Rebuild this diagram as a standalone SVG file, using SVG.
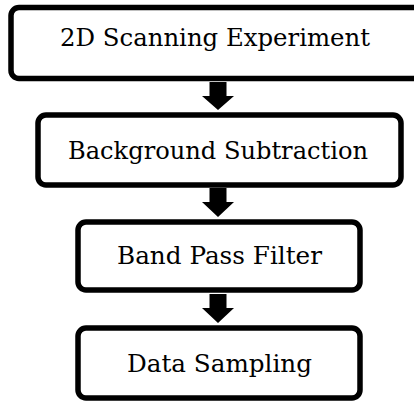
<svg xmlns="http://www.w3.org/2000/svg" width="414" height="401" viewBox="0 0 414 401">
<style>
.box{fill:#fff;stroke:#000;stroke-width:5.5}
.lbl{font-family:"DejaVu Serif","Liberation Serif",serif;font-size:24px;fill:#000;text-anchor:middle}
.arr{fill:#000}
</style>
<rect width="414" height="401" fill="#fff"/>
<g id="n1"><rect class="box" x="11" y="7.5" width="420" height="71" rx="8"/><text class="lbl" x="215" y="46" textLength="310" lengthAdjust="spacingAndGlyphs">2D Scanning Experiment</text></g>
<g id="n2"><rect class="box" x="38" y="115" width="363" height="70" rx="8"/><text class="lbl" x="218" y="159" textLength="300" lengthAdjust="spacingAndGlyphs">Background Subtraction</text></g>
<g id="n3"><rect class="box" x="78" y="222" width="282" height="68" rx="8"/><text class="lbl" x="219.5" y="264" textLength="205" lengthAdjust="spacingAndGlyphs">Band Pass Filter</text></g>
<g id="n4"><rect class="box" x="78" y="328" width="282" height="70" rx="8"/><text class="lbl" x="219.5" y="372" textLength="185" lengthAdjust="spacingAndGlyphs">Data Sampling</text></g>
<g id="connectors">
<polygon class="arr" points="209.5,82 226.5,82 226.5,96 234,96 218,110 202,96 209.5,96"/>
<polygon class="arr" points="209.5,188 226.5,188 226.5,202 234,202 218,217 202,202 209.5,202"/>
<polygon class="arr" points="209.5,294 226.5,294 226.5,308 234,308 218,323 202,308 209.5,308"/>
</g>
</svg>
